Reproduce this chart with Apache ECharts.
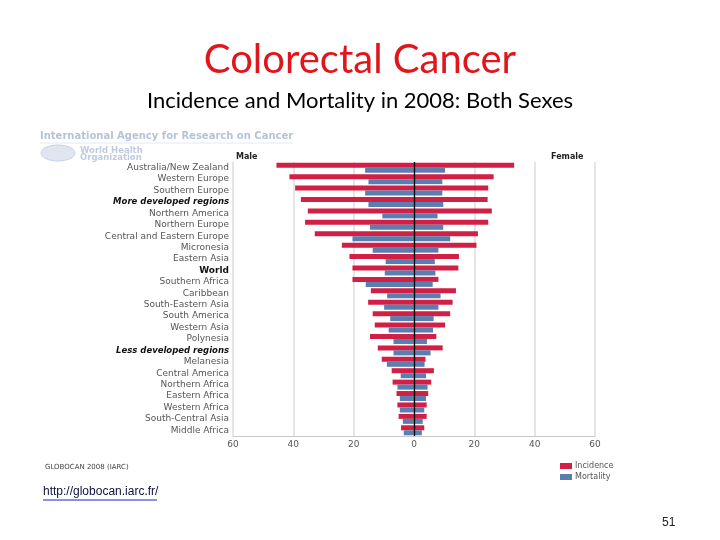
<!DOCTYPE html>
<html><head><meta charset="utf-8">
<script src="https://cdn.jsdelivr.net/npm/echarts@6/dist/echarts.min.js"></script>
<style>html,body{margin:0;padding:0;background:#fff}#c{width:720px;height:540px}</style>
</head><body><div id="c"></div>
<script>
const categories = ['Australia/New Zealand','Western Europe','Southern Europe','More developed regions','Northern America','Northern Europe','Central and Eastern Europe','Micronesia','Eastern Asia','World','Southern Africa','Caribbean','South-Eastern Asia','South America','Western Asia','Polynesia','Less developed regions','Melanesia','Central America','Northern Africa','Eastern Africa','Western Africa','South-Central Asia','Middle Africa'];
const maleIncidence = [45.6, 41.3, 39.4, 37.5, 35.2, 36.1, 32.9, 23.9, 21.4, 20.4, 20.4, 14.3, 15.2, 13.7, 13.0, 14.6, 12.0, 10.7, 7.4, 7.1, 5.8, 5.5, 5.1, 4.3];
const femaleIncidence = [33.2, 26.4, 24.6, 24.4, 25.8, 24.6, 21.2, 20.7, 14.9, 14.7, 8.1, 13.9, 12.8, 12.0, 10.3, 7.4, 9.5, 3.8, 6.6, 5.7, 4.7, 4.2, 4.2, 3.4];
const maleMortality = [16.2, 15.1, 16.2, 15.1, 10.5, 14.6, 20.4, 13.7, 9.4, 9.7, 16.0, 8.9, 9.9, 7.9, 8.4, 6.8, 6.8, 9.0, 4.4, 5.5, 4.7, 4.7, 3.7, 3.4];
const femaleMortality = [10.3, 9.4, 9.4, 9.7, 7.8, 9.7, 12.0, 8.1, 6.9, 7.1, 6.2, 8.8, 8.1, 6.5, 6.3, 4.3, 5.5, 3.5, 4.0, 4.5, 4.0, 3.4, 2.9, 2.6];
const xTicks = { min: -60, max: 60, step: 20 };

const RED = '#d21f45', BLUE = '#5a7eb0';
const chart = echarts.init(document.getElementById('c'), null, { renderer: 'canvas' });
const neg = a => a.map(v => -v);
function barSeries(name, stack, data, color, extra) {
  return Object.assign({
    name, type: 'bar', stack, data, barWidth: 5, barGap: '0%',
    itemStyle: { color }, silent: true, animation: false
  }, extra || {});
}
chart.setOption({
  animation: false,
  grid: { left: 233, right: 125, top: 162, bottom: 104, containLabel: false },
  legend: {
    orient: 'vertical', left: 555, top: 457, itemWidth: 12, itemHeight: 6, itemGap: 3,
    data: [{ name: 'Incidence', icon: 'rect' }, { name: 'Mortality', icon: 'rect' }],
    textStyle: { fontFamily: 'DejaVu Sans', fontSize: 8, color: '#555', padding: [0, 0, 0, -2] }
  },
  xAxis: {
    type: 'value', min: xTicks.min, max: xTicks.max, interval: xTicks.step,
    axisLine: { show: true, lineStyle: { color: '#c8c8c8' } },
    axisTick: { show: false },
    splitLine: { show: true, lineStyle: { color: '#dcdcdc', width: 1.5 } },
    axisLabel: { formatter: v => Math.abs(v), fontFamily: 'DejaVu Sans', fontSize: 9, color: '#555', margin: 4 }
  },
  yAxis: {
    type: 'category', data: categories, inverse: true,
    axisLine: { show: true, lineStyle: { color: '#c8c8c8' } },
    axisTick: { show: false },
    axisLabel: {
      interval: 0, hideOverlap: false,
      margin: 4, fontFamily: 'DejaVu Sans', fontSize: 9, lineHeight: 10, color: '#555',
      formatter: v => v === 'World' ? '{b|' + v + '}' : (v.indexOf('developed') >= 0 ? '{bi|' + v + '}' : v),
      rich: {
        b: { fontFamily: 'DejaVu Sans', fontSize: 9, lineHeight: 10, fontWeight: 'bold', color: '#111' },
        bi: { fontFamily: 'DejaVu Sans', fontSize: 8.5, lineHeight: 10, fontWeight: 'bold', fontStyle: 'italic', color: '#111' }
      }
    }
  },
  series: [
    barSeries('Incidence', 'inc', neg(maleIncidence), RED),
    barSeries('Incidence', 'inc', femaleIncidence, RED),
    barSeries('Mortality', 'mort', neg(maleMortality), BLUE),
    barSeries('Mortality', 'mort', femaleMortality, BLUE, {
      markLine: { silent: true, symbol: 'none', label: { show: false },
        lineStyle: { color: '#000', type: 'solid', width: 1.3 }, data: [{ xAxis: 0 }] }
    })
  ],
  graphic: [
    { type: 'text', left: 'center', top: 40, style: { text: 'Colorectal Cancer', fontFamily: 'Lato', fontSize: 40, fill: '#e0161c' } },
    { type: 'text', left: 'center', top: 90, style: { text: 'Incidence and Mortality in 2008: Both Sexes', fontFamily: 'Lato', fontSize: 22, fill: '#000' } },
    { type: 'text', left: 40, top: 131, style: { text: 'International Agency for Research on Cancer', fontFamily: 'DejaVu Sans', fontWeight: 'bold', fontSize: 10, fill: '#b5c3d9' } },
    { type: 'line', shape: { x1: 40, y1: 143, x2: 293, y2: 143 }, style: { stroke: '#e3e8f0', lineWidth: 1 } },
    { type: 'ellipse', shape: { cx: 58, cy: 153, rx: 17, ry: 8 }, style: { fill: '#dfe6f0', stroke: '#c5d0e2', lineWidth: 1 } },
    { type: 'text', left: 80, top: 146, style: { text: 'World Health\nOrganization', fontFamily: 'DejaVu Sans', fontWeight: 'bold', fontSize: 8.5, lineHeight: 7.5, fill: '#c0cbe0' } },
    { type: 'text', left: 236, top: 153, style: { text: 'Male', fontFamily: 'DejaVu Sans', fontWeight: 'bold', fontSize: 8, fill: '#222' } },
    { type: 'text', left: 551, top: 153, style: { text: 'Female', fontFamily: 'DejaVu Sans', fontWeight: 'bold', fontSize: 8, fill: '#222' } },
    { type: 'text', left: 45, top: 464, style: { text: 'GLOBOCAN 2008 (IARC)', fontFamily: 'DejaVu Sans', fontSize: 7, fill: '#444' } },
    { type: 'text', left: 43, top: 486, style: { text: 'http://globocan.iarc.fr/', fontFamily: 'Liberation Sans', fontSize: 12, fill: '#101040' } },
    { type: 'line', shape: { x1: 43, y1: 500, x2: 157, y2: 500 }, style: { stroke: '#2020c0', lineWidth: 1 } },
    { type: 'text', left: 662, top: 517, style: { text: '51', fontFamily: 'Liberation Sans', fontSize: 12, fill: '#222' } }
  ]
});
</script></body></html>
